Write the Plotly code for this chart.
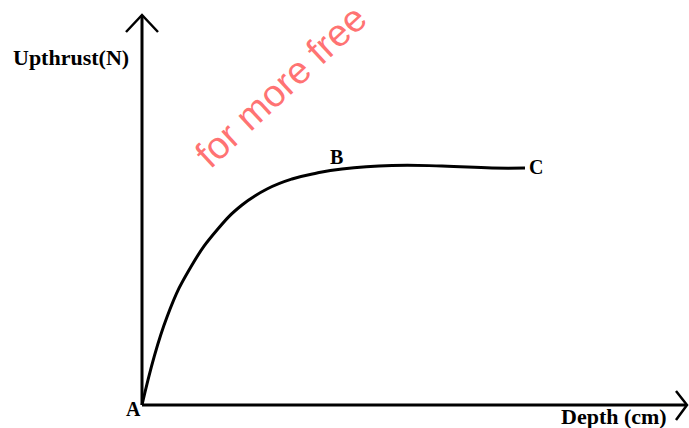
import plotly.graph_objects as go

# Upthrust vs depth curve (depth in cm, upthrust in N, arbitrary units)
depth = [0, 25, 50, 75, 100, 125, 150, 175, 200, 250, 300, 350, 383]
upthrust = [0, 88, 140, 175, 200, 216, 226, 232, 236, 239.5, 239, 237, 237]

point_labels = ["A", "B", "C"]
point_x = [-9, 194, 394]
point_y = [-4, 248, 238]

x_title = "Depth (cm)"
y_title = "Upthrust(N)"
note_text = "for more free"

x_max = 545
y_max = 390

serif = "Liberation Serif, Times New Roman, serif"

fig = go.Figure()
fig.add_trace(go.Scatter(
    x=depth, y=upthrust, mode="lines",
    line=dict(color="black", width=3, shape="spline", smoothing=1.3),
    hoverinfo="skip", showlegend=False,
))

axis_style = dict(color="black", width=3)
shapes = [
    dict(type="line", x0=0, y0=0, x1=x_max, y1=0, line=axis_style),
    dict(type="line", x0=0, y0=0, x1=0, y1=y_max, line=axis_style),
    # open arrowheads
    dict(type="path", path=f"M -16,{y_max-17} L 0,{y_max} L 16,{y_max-17}",
         line=dict(color="black", width=2.5)),
    dict(type="path", path=f"M {x_max-11},14 L {x_max},0 L {x_max-11},-15",
         line=dict(color="black", width=2.5)),
]

annotations = [
    dict(x=-71, y=348, text=f"<b>{y_title}</b>", showarrow=False,
         font=dict(family=serif, size=22, color="black")),
    dict(x=472, y=-11, text=f"<b>{x_title}</b>", showarrow=False,
         font=dict(family=serif, size=22, color="black")),
    dict(x=139, y=319, text=note_text, showarrow=False, textangle=-43,
         font=dict(family="Liberation Sans, Arial, sans-serif", size=38,
                   color="rgba(255,90,90,0.85)")),
]
for lab, lx, ly in zip(point_labels, point_x, point_y):
    annotations.append(dict(x=lx, y=ly, text=f"<b>{lab}</b>", showarrow=False,
                            font=dict(family=serif, size=20, color="black")))

fig.update_layout(
    width=689, height=428,
    margin=dict(l=0, r=0, t=0, b=0),
    paper_bgcolor="white", plot_bgcolor="white",
    xaxis=dict(range=[-142, 547], visible=False, fixedrange=True),
    yaxis=dict(range=[-23, 405], visible=False, fixedrange=True),
    shapes=shapes, annotations=annotations,
)

fig.write_html("out.html")
